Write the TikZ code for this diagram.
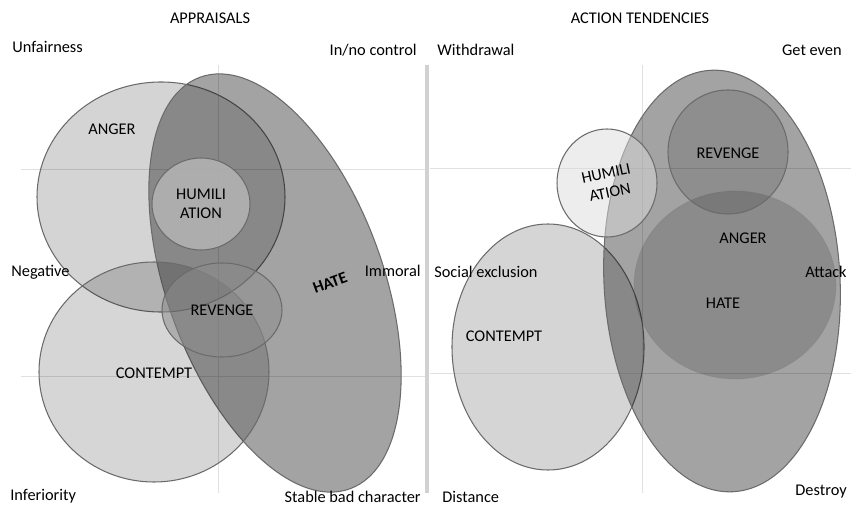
\documentclass[tikz,border=0pt]{standalone}
\usepackage{fontspec}
\setmainfont{Carlito}
\usepackage{tikz}
\usetikzlibrary{positioning}
\tikzstyle{axisline} = [draw=black!12, line width=0.4pt]
\tikzstyle{divider} = [draw=black!18, line width=2pt]
\tikzstyle{blob} = [draw=black!58, line width=0.6pt]
\tikzstyle{lbl} = [draw=none, inner sep=0, font=\fontsize{9.3}{11}\selectfont]

\begin{document}
\begin{tikzpicture}[x=0.02cm, y=-0.02cm]
\useasboundingbox (0,0) rectangle (851,506);

% quadrant lines
\coordinate (lt) at (218,65);   \coordinate (lb) at (218,493);
\coordinate (la) at (21,169);   \coordinate (lc) at (428,169);
\coordinate (ld) at (21,376);   \coordinate (le) at (428,376);
\coordinate (rt) at (642,65);   \coordinate (rb) at (642,493);
\coordinate (ra) at (430,168);  \coordinate (rc) at (851,168);
\coordinate (rd) at (430,373);  \coordinate (re) at (851,373);
\coordinate (dt) at (427,65);   \coordinate (db) at (427,493);
\draw [axisline] (lt) -- (lb);
\draw [axisline] (la) -- (lc);
\draw [axisline] (ld) -- (le);
\draw [axisline] (rt) -- (rb);
\draw [axisline] (ra) -- (rc);
\draw [axisline] (rd) -- (re);
\draw [divider] (dt) -- (db);

% appraisals
\draw [blob, fill=black, fill opacity=0.17] (161,197) ellipse [x radius=124, y radius=115];
\draw [blob, fill=black, fill opacity=0.36, rotate around={20:(275,283)}] (275,283) ellipse [x radius=108, y radius=219];
\draw [blob, fill=black!31, fill opacity=0.92] (201,204) ellipse [x radius=49, y radius=46];
\draw [blob, fill=black, fill opacity=0.16] (154,372) ellipse [x radius=115, y radius=110];
\draw [blob, fill=black!45, fill opacity=0.55] (222,310) ellipse [x radius=60, y radius=47];

% action tendencies
\draw [blob, fill=black!33, fill opacity=0.5] (548,347) ellipse [x radius=96, y radius=123];
\draw [blob, fill=black, fill opacity=0.36, rotate around={3:(722,281)}] (722,281) ellipse [x radius=118, y radius=211];
\draw [blob, draw opacity=0.15, fill=black, fill opacity=0.15] (735,285) ellipse [x radius=101, y radius=94];
\draw [blob, fill=black, fill opacity=0.13] (728,152) ellipse [x radius=60, y radius=62];
\draw [blob, fill=black!14, fill opacity=0.5] (607,183) ellipse [x radius=50, y radius=54];

% titles
\node [lbl] (appr) at (210,18) {APPRAISALS};
\node [lbl] (acti) at (640,18) {ACTION TENDENCIES};

% corner labels
\node [lbl, anchor=west] (unfair) at (12,47) {Unfairness};
\node [lbl, anchor=east] (control) at (417,50) {In/no control};
\node [lbl, anchor=west] (neg) at (11,272) {Negative};
\node [lbl, anchor=east] (immoral) at (421,271) {Immoral};
\node [lbl, anchor=west] (inferior) at (10,496) {Inferiority};
\node [lbl, anchor=east] (stable) at (421,497) {Stable bad character};
\node [lbl, anchor=west] (withdraw) at (437,50) {Withdrawal};
\node [lbl, anchor=east] (geteven) at (842,50) {Get even};
\node [lbl, anchor=west] (social) at (434,272) {Social exclusion};
\node [lbl, anchor=east] (attack) at (847,272) {Attack};
\node [lbl, anchor=west] (distance) at (442,497) {Distance};
\node [lbl, anchor=east] (destroy) at (847,492) {Destroy};

% emotion labels
\node [lbl] (angerL) at (112,129) {ANGER};
\node [lbl, align=center] (humilL) at (201,204) {HUMILI\\ATION};
\node [lbl] (revengeL) at (222,310) {REVENGE};
\node [lbl] (contemptL) at (154,373) {CONTEMPT};
\node [lbl, font=\fontsize{9.3}{11}\selectfont\bfseries, rotate=20] (hateL) at (330,283) {HATE};
\node [lbl] (revengeR) at (728,153) {REVENGE};
\node [lbl, align=center, rotate=12] (humilR) at (608,183) {HUMILI\\ATION};
\node [lbl] (angerR) at (743,238) {ANGER};
\node [lbl] (hateR) at (723,303) {HATE};
\node [lbl] (contemptR) at (504,336) {CONTEMPT};
\end{tikzpicture}
\end{document}
